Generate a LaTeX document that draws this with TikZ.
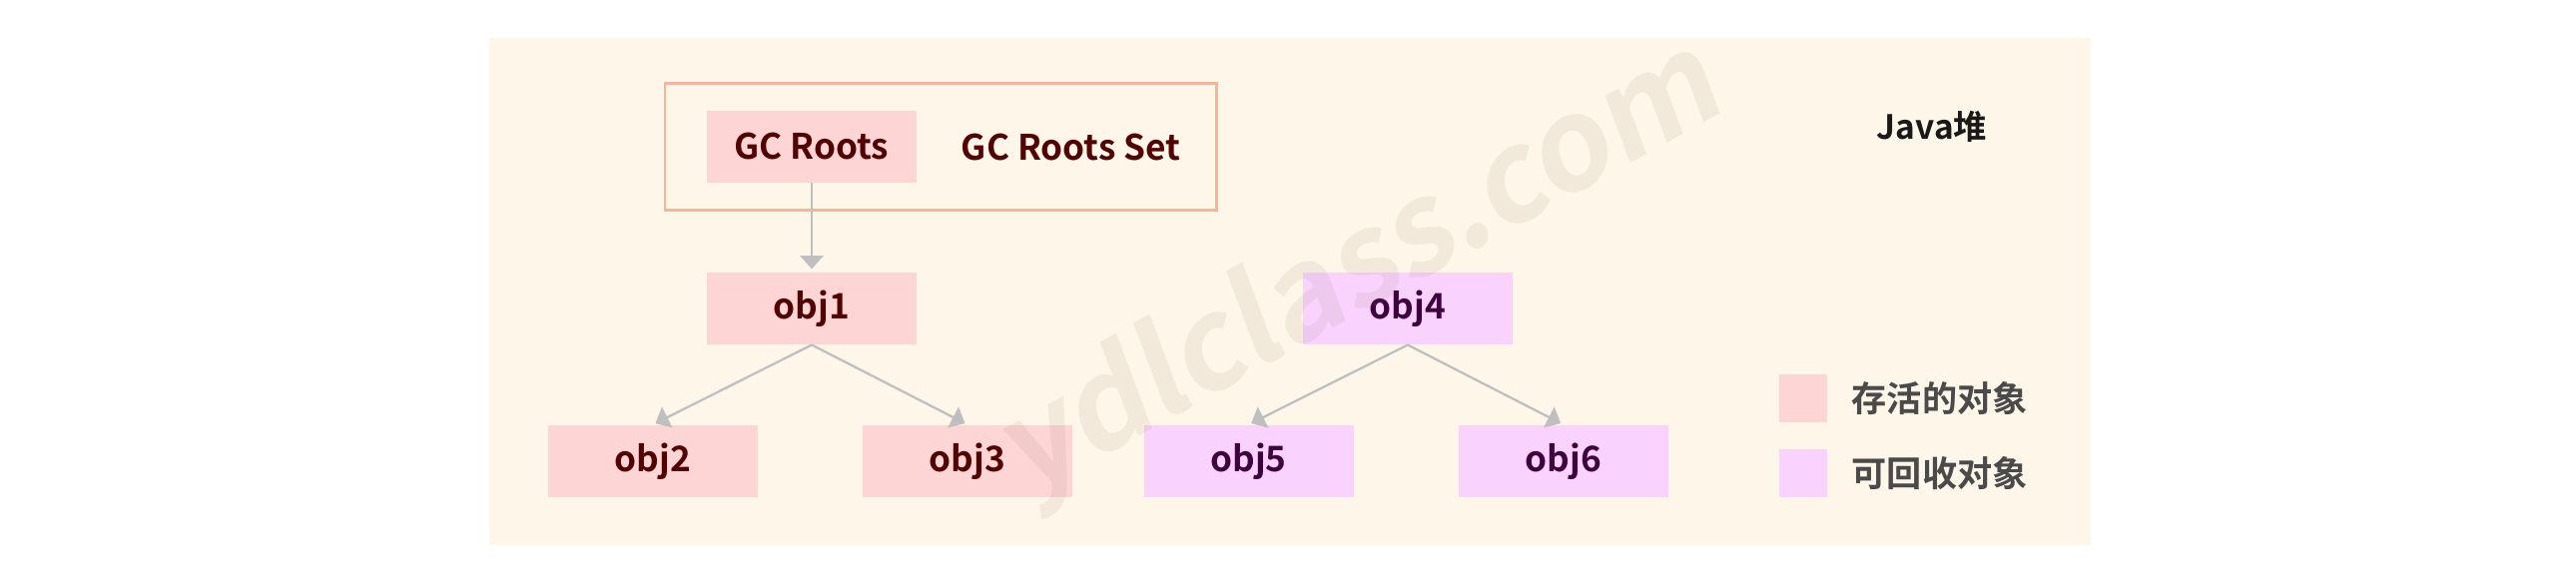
\documentclass[tikz,border=0pt]{standalone}
\usepackage{fontspec}
\usetikzlibrary{arrows.meta}
\newfontfamily\cjkb{Noto Sans CJK SC}[UprightFont=* Bold]
\newfontfamily\wmfont{Noto Sans CJK SC}[UprightFont=* Bold, FakeSlant=0.15]
\definecolor{panelbg}{HTML}{FEF6E9}
\definecolor{livefill}{HTML}{FDD5D5}
\definecolor{deadfill}{HTML}{F9D3FE}
\definecolor{livetext}{HTML}{520000}
\definecolor{deadtext}{HTML}{3F003F}
\definecolor{setborder}{HTML}{F5B49C}
\definecolor{arrgray}{HTML}{BFBFBF}
\definecolor{legtext}{HTML}{4A4A4A}
\definecolor{wmcolor}{HTML}{8C7860}
\tikzset{
  objbox/.style={rectangle, inner sep=0pt, minimum width=2.1cm, minimum height=0.717cm, font=\cjkb\fontsize{10}{12}\selectfont},
  livebox/.style={objbox, fill=livefill, text=livetext},
  deadbox/.style={objbox, fill=deadfill, text=deadtext},
  legbox/.style={rectangle, inner sep=0pt, minimum width=0.484cm, minimum height=0.477cm},
  legtxt/.style={anchor=west, inner sep=0pt, text=legtext, font=\cjkb\fontsize{10}{12}\selectfont},
  arr/.style={draw=arrgray, line width=0.65pt, -{Triangle[length=3.8pt,width=6.6pt]}, shorten >=0.8pt}
}
\begin{document}
\begin{tikzpicture}[x=0.01cm,y=-0.01cm]
\useasboundingbox (0,0) rectangle (2580,588);
\fill[white] (0,0) rectangle (2580,588);
\fill[panelbg] (489.5,38.5) rectangle (2094,545.7);
\node[draw=setborder, line width=0.7pt, rectangle, inner sep=0pt, minimum width=5.52cm, minimum height=1.27cm] (set) at (942.3,147) {};
\node[livebox] (gcr) at (813,146.9) {GC Roots};
\node[text=livetext, inner sep=0pt, font=\cjkb\fontsize{10}{12}\selectfont] (setlabel) at (1072.6,147) {GC Roots Set};
\node[livebox] (obj1) at (813,308.9) {obj1};
\node[livebox] (obj2) at (653.9,461.9) {obj2};
\node[livebox] (obj3) at (969,461.9) {obj3};
\node[deadbox] (obj4) at (1409.9,308.9) {obj4};
\node[deadbox] (obj5) at (1250.6,461.9) {obj5};
\node[deadbox] (obj6) at (1565.7,461.9) {obj6};
\draw[arr] (gcr.south) -- (obj1.north);
\draw[arr] (obj1.south) -- (obj2.north);
\draw[arr] (obj1.south) -- (obj3.north);
\draw[arr] (obj4.south) -- (obj5.north);
\draw[arr] (obj4.south) -- (obj6.north);
\node[inner sep=0pt, text=black!90, font=\cjkb\fontsize{9.5}{12}\selectfont] (java) at (1935,127) {Java堆};
\node[legbox, fill=livefill] (leg1) at (1806.2,398.9) {};
\node[legbox, fill=deadfill] (leg2) at (1806.2,473.9) {};
\node[legtxt] (leg1t) at (1854,398.9) {存活的对象};
\node[legtxt] (leg2t) at (1854,473.9) {可回收对象};
\node[rotate=29, anchor=base, inner sep=0pt, text=wmcolor, text opacity=0.1, font=\wmfont\fontsize{36}{40}\selectfont] (wm) at (1380,304) {ydlclass.com};
\end{tikzpicture}
\end{document}
